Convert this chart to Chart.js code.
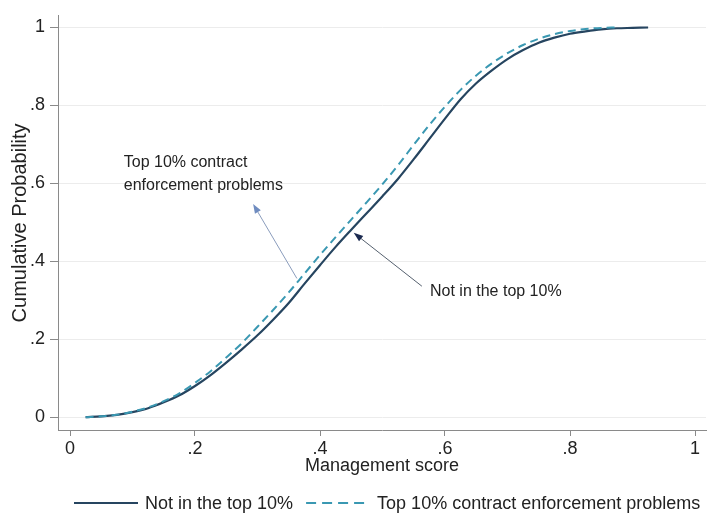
<!DOCTYPE html>
<html>
<head>
<meta charset="utf-8">
<script src="https://cdn.jsdelivr.net/npm/chart.js@4.4.1/dist/chart.umd.min.js"></script>
<style>
  html, body { margin: 0; padding: 0; background: #fff; }
  #wrap { width: 709px; height: 523px; position: relative; }
</style>
</head>
<body>
<div id="wrap"><canvas id="cdf"></canvas></div>
<script>
// management score (x) and cumulative probability of each group
const scores = [0.025, 0.05, 0.075, 0.1, 0.125, 0.15, 0.175, 0.2, 0.225, 0.25,
  0.275, 0.3, 0.325, 0.35, 0.375, 0.4, 0.425, 0.45, 0.475, 0.5,
  0.525, 0.55, 0.575, 0.6, 0.625, 0.65, 0.675, 0.7, 0.725, 0.75,
  0.775, 0.8, 0.825, 0.85, 0.875, 0.9, 0.925];
const notTop10 = [0.000, 0.002, 0.006, 0.013, 0.023, 0.038, 0.056, 0.080, 0.108, 0.140,
  0.174, 0.210, 0.250, 0.293, 0.342, 0.390, 0.437, 0.481, 0.524, 0.567,
  0.612, 0.662, 0.714, 0.766, 0.816, 0.857, 0.890, 0.919, 0.942, 0.961,
  0.974, 0.984, 0.990, 0.995, 0.998, 0.999, 1.000];
const top10 = [0.000, 0.002, 0.006, 0.014, 0.025, 0.041, 0.061, 0.088, 0.118, 0.153,
  0.190, 0.232, 0.275, 0.320, 0.368, 0.416, 0.462, 0.507, 0.552, 0.598,
  0.647, 0.699, 0.750, 0.797, 0.840, 0.877, 0.908, 0.934, 0.955, 0.971,
  0.983, 0.991, 0.996, 0.999, 1.000, null, null];
const tickValues = [0, 0.2, 0.4, 0.6, 0.8, 1];
const seriesNames = ['Not in the top 10%', 'Top 10% contract enforcement problems'];

const solidColor = '#264560';
const dashColor = '#3a98b2';
const axisColor = '#8a8a8a';
const fontFam = '"Liberation Sans", Arial, sans-serif';

function pairs(ys) {
  return scores.map((x, i) => ({x: x, y: ys[i]}));
}
function fmt(v) {
  if (v === 0) return '0';
  if (v === 1) return '1';
  return v.toFixed(1).replace('0.', '.');
}

// arrows and notes inside the plot, placed in data units
const notes = [
  {lines: ['Top 10% contract', 'enforcement problems'], x: 0.086, y: 0.653, lineGap: 0.058,
   from: [0.363, 0.356], to: [0.293, 0.547], lineColor: '#8a9cbc', headColor: '#6f8cc0'},
  {lines: ['Not in the top 10%'], x: 0.576, y: 0.323, lineGap: 0,
   from: [0.563, 0.336], to: [0.454, 0.473], lineColor: '#55606e', headColor: '#1b2a50'}
];

const notesPlugin = {
  id: 'notes',
  afterDatasetsDraw(chart) {
    const ctx = chart.ctx, xs = chart.scales.x, ys = chart.scales.y;
    ctx.save();
    notes.forEach(n => {
      const x1 = xs.getPixelForValue(n.from[0]), y1 = ys.getPixelForValue(n.from[1]);
      const x2 = xs.getPixelForValue(n.to[0]), y2 = ys.getPixelForValue(n.to[1]);
      const ang = Math.atan2(y2 - y1, x2 - x1);
      ctx.strokeStyle = n.lineColor;
      ctx.lineWidth = 1;
      ctx.beginPath();
      ctx.moveTo(x1, y1);
      ctx.lineTo(x2 - 6 * Math.cos(ang), y2 - 6 * Math.sin(ang));
      ctx.stroke();
      ctx.fillStyle = n.headColor;
      ctx.beginPath();
      ctx.moveTo(x2, y2);
      ctx.lineTo(x2 - 10 * Math.cos(ang - 0.35), y2 - 10 * Math.sin(ang - 0.35));
      ctx.lineTo(x2 - 10 * Math.cos(ang + 0.35), y2 - 10 * Math.sin(ang + 0.35));
      ctx.closePath();
      ctx.fill();
      ctx.fillStyle = '#222';
      ctx.font = '16px ' + fontFam;
      ctx.textBaseline = 'middle';
      ctx.textAlign = 'left';
      n.lines.forEach((t, i) => {
        ctx.fillText(t, xs.getPixelForValue(n.x), ys.getPixelForValue(n.y - i * n.lineGap));
      });
    });
    ctx.restore();
  },
  afterDraw(chart) {
    // legend row under the axis title
    const ctx = chart.ctx;
    const y = 503;
    ctx.save();
    ctx.font = '18px ' + fontFam;
    ctx.textBaseline = 'middle';
    ctx.fillStyle = '#222';
    let x = 74;
    const styles = [{c: solidColor, d: [], w: 2.2}, {c: dashColor, d: [10, 6], w: 2}];
    seriesNames.forEach((name, i) => {
      ctx.strokeStyle = styles[i].c;
      ctx.lineWidth = styles[i].w;
      ctx.setLineDash(styles[i].d);
      ctx.beginPath();
      ctx.moveTo(x, y);
      ctx.lineTo(x + 64, y);
      ctx.stroke();
      ctx.fillText(name, x + 71, y + 1);
      x += 71 + ctx.measureText(name).width + 13;
    });
    ctx.restore();
  }
};

new Chart(document.getElementById('cdf'), {
  type: 'line',
  data: {
    datasets: [
      {
        label: seriesNames[1],
        data: pairs(top10),
        borderColor: dashColor,
        borderWidth: 2,
        borderDash: [8, 5],
        pointRadius: 0,
        cubicInterpolationMode: 'monotone',
        spanGaps: false
      },
      {
        label: seriesNames[0],
        data: pairs(notTop10),
        borderColor: solidColor,
        borderWidth: 2.2,
        pointRadius: 0,
        cubicInterpolationMode: 'monotone'
      }
    ]
  },
  options: {
    responsive: true,
    maintainAspectRatio: false,
    animation: false,
    layout: {padding: {left: 8, top: 12, right: 3, bottom: 46}},
    plugins: {
      legend: {display: false},
      tooltip: {enabled: false}
    },
    scales: {
      x: {
        type: 'linear',
        min: -0.0192,
        max: 1.0176,
        afterBuildTicks: (s) => { s.ticks = tickValues.map(v => ({value: v})); },
        afterFit: (s) => { s.height = 47; },
        grid: {color: 'rgba(0,0,0,0)', tickColor: axisColor, tickLength: 6, drawTicks: true},
        border: {display: true, color: axisColor, width: 1},
        ticks: {
          callback: (v) => fmt(v),
          color: '#222',
          padding: 2,
          maxRotation: 0,
          font: {family: fontFam, size: 18}
        },
        title: {
          display: true,
          text: 'Management score',
          color: '#222',
          padding: 0,
          font: {family: fontFam, size: 18}
        }
      },
      y: {
        type: 'linear',
        min: -0.033,
        max: 1.030,
        afterBuildTicks: (s) => { s.ticks = tickValues.map(v => ({value: v})); },
        afterFit: (s) => { s.width = 50; },
        grid: {color: '#ececec', tickColor: axisColor, tickLength: 8, drawTicks: true},
        border: {display: true, color: axisColor, width: 1},
        ticks: {
          callback: (v) => fmt(v),
          color: '#222',
          padding: 5,
          font: {family: fontFam, size: 18}
        },
        title: {
          display: true,
          text: 'Cumulative Probability',
          color: '#222',
          padding: 0,
          font: {family: fontFam, size: 20}
        }
      }
    }
  },
  plugins: [notesPlugin]
});
</script>
</body>
</html>
